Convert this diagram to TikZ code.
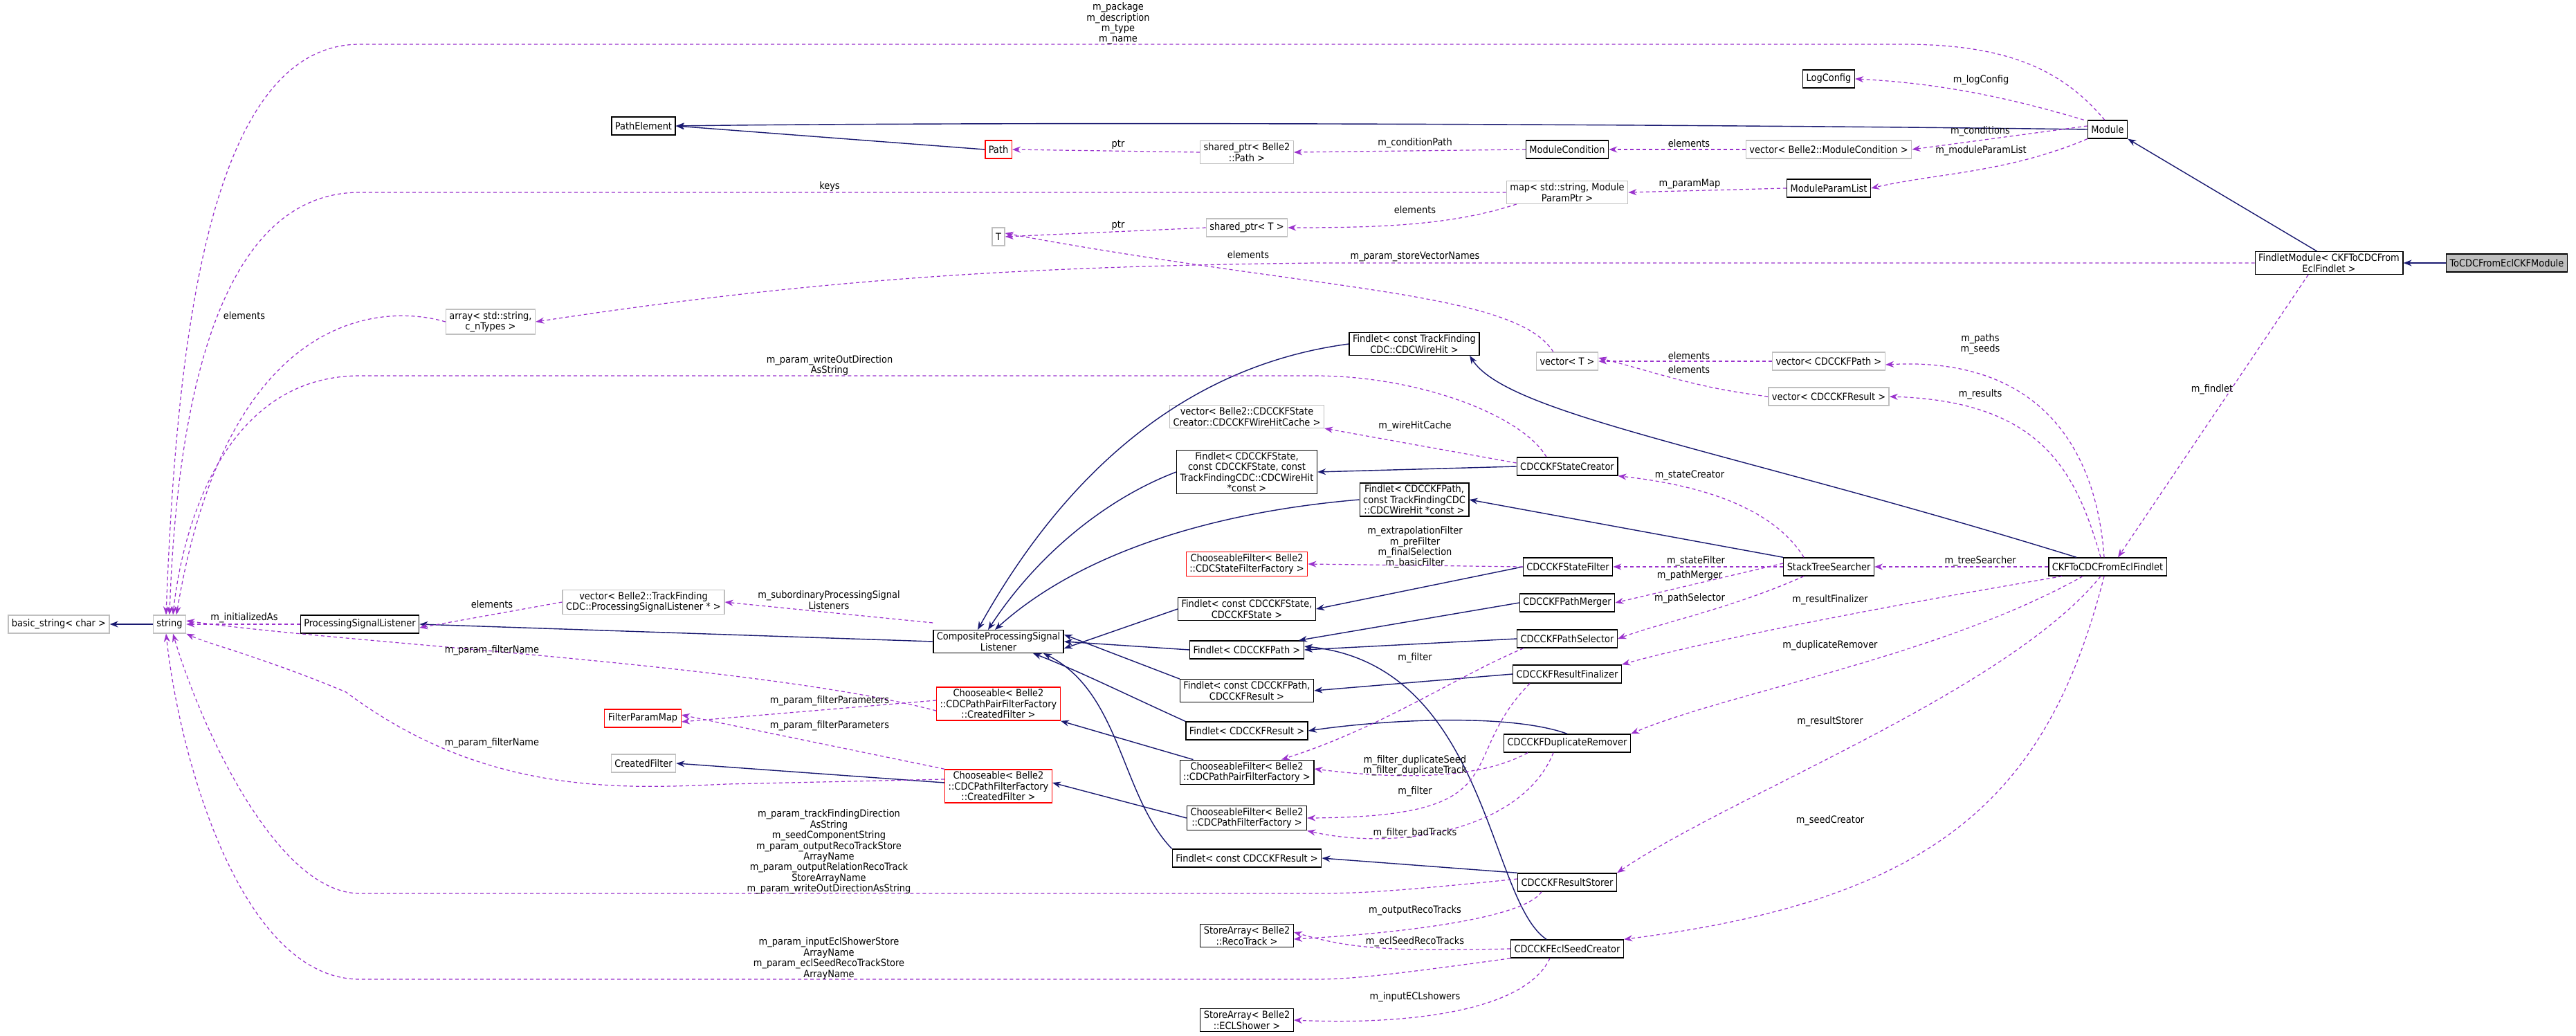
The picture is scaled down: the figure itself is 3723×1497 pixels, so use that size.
\documentclass[tikz,border=0pt]{standalone}
\usepackage{fontspec}
\setmainfont{DejaVu Sans Condensed}
\usetikzlibrary{arrows.meta}
\definecolor{use}{HTML}{9A32CD}
\definecolor{inh}{HTML}{191970}
\definecolor{gb}{HTML}{BFBFBF}
\tikzset{
 bx/.style={draw=black,line width=0.4pt,fill=white,font=\fontsize{4.1}{4.4}\selectfont,align=center,inner xsep=0.05cm,inner ysep=0.03cm,minimum height=0.26cm},
 gbx/.style={bx,draw=gb},
 rbx/.style={bx,draw=red},
 lbl/.style={font=\fontsize{4.1}{4.4}\selectfont,align=center,inner sep=0pt},
 u/.style={draw=use,dashed,dash pattern=on 0.05cm off 0.04cm,line width=0.35pt,-{Stealth[length=0.12cm,width=0.09cm]}},
 ih/.style={draw=inh,line width=0.4pt,-{Stealth[length=0.12cm,width=0.09cm]}},
}
\begin{document}
\begin{tikzpicture}[x=0.01cm,y=-0.01cm]
\useasboundingbox (0,0) rectangle (3723,1497);
% nodes
\node[bx,fill=gb] (top) at (3623,380) {ToCDCFromEclCKFModule};
\node[bx] (fm) at (3366,380) {FindletModule< CKFToCDCFrom\\EclFindlet >};
\node[bx] (mod) at (3046,187) {Module};
\node[bx] (log) at (2643,114) {LogConfig};
\node[gbx] (vmc) at (2643,216) {vector< Belle2::ModuleCondition >};
\node[bx] (mpl) at (2643,272) {ModuleParamList};
\node[bx] (mc) at (2265,216) {ModuleCondition};
\node[gbx] (map) at (2265,278) {map< std::string, Module\\ParamPtr >};
\node[gbx] (spp) at (1802,220) {shared\_ptr< Belle2\\::Path >};
\node[gbx] (spt) at (1802,329) {shared\_ptr< T >};
\node[rbx] (path) at (1443,216) {Path};
\node[gbx] (T) at (1443,342) {T};
\node[bx] (pe) at (930,182) {PathElement};
\node[gbx] (arr) at (709,465) {array< std::string,\\c\_nTypes >};
\node[gbx] (vt) at (2265,522) {vector< T >};
\node[gbx] (vp) at (2643,522) {vector< CDCCKFPath >};
\node[gbx] (vr) at (2643,573) {vector< CDCCKFResult >};
\node[bx] (fwh) at (2044,497) {Findlet< const TrackFinding\\CDC::CDCWireHit >};
\node[gbx] (vwc) at (1802,602) {vector< Belle2::CDCCKFState\\Creator::CDCCKFWireHitCache >};
\node[bx] (fst) at (1802,682) {Findlet< CDCCKFState,\\const CDCCKFState, const\\TrackFindingCDC::CDCWireHit\\*const >};
\node[bx] (scr) at (2265,674) {CDCCKFStateCreator};
\node[bx] (fpw) at (2044,722) {Findlet< CDCCKFPath,\\const TrackFindingCDC\\::CDCWireHit *const >};
\node[bx] (ckf) at (3046,819) {CKFToCDCFromEclFindlet};
\node[bx] (sts) at (2643,819) {StackTreeSearcher};
\node[bx] (sf) at (2266,819) {CDCCKFStateFilter};
\node[rbx] (csf) at (1802,815) {ChooseableFilter< Belle2\\::CDCStateFilterFactory >};
\node[bx] (fcs) at (1802,880) {Findlet< const CDCCKFState,\\CDCCKFState >};
\node[bx] (pm) at (2265,871) {CDCCKFPathMerger};
\node[bx] (fp) at (1802,939) {Findlet< CDCCKFPath >};
\node[bx] (ps) at (2265,923) {CDCCKFPathSelector};
\node[bx] (rf) at (2265,974) {CDCCKFResultFinalizer};
\node[bx] (fpr) at (1802,998) {Findlet< const CDCCKFPath,\\CDCCKFResult >};
\node[bx] (cps) at (1443,927) {CompositeProcessingSignal\\Listener};
\node[rbx] (chpp) at (1443,1017) {Chooseable< Belle2\\::CDCPathPairFilterFactory\\::CreatedFilter >};
\node[bx] (fr) at (1802,1056) {Findlet< CDCCKFResult >};
\node[bx] (dr) at (2265,1074) {CDCCKFDuplicateRemover};
\node[bx] (cfpp) at (1802,1116) {ChooseableFilter< Belle2\\::CDCPathPairFilterFactory >};
\node[rbx] (chp) at (1443,1136) {Chooseable< Belle2\\::CDCPathFilterFactory\\::CreatedFilter >};
\node[bx] (cfp) at (1802,1182) {ChooseableFilter< Belle2\\::CDCPathFilterFactory >};
\node[bx] (fcr) at (1802,1240) {Findlet< const CDCCKFResult >};
\node[bx] (rs) at (2265,1275) {CDCCKFResultStorer};
\node[bx] (sart) at (1802,1352) {StoreArray< Belle2\\::RecoTrack >};
\node[bx] (esc) at (2265,1371) {CDCCKFEclSeedCreator};
\node[bx] (saes) at (1802,1474) {StoreArray< Belle2\\::ECLShower >};
\node[gbx] (str) at (245,902) {string};
\node[gbx] (bs) at (85,902) {basic\_string< char >};
\node[bx] (psl) at (520,902) {ProcessingSignalListener};
\node[gbx] (vpsl) at (930,870) {vector< Belle2::TrackFinding\\CDC::ProcessingSignalListener * >};
\node[rbx] (fpm) at (929,1038) {FilterParamMap};
\node[gbx] (cf) at (930,1103) {CreatedFilter};
% inheritance
\draw[ih] (top) -- (fm);
\draw[ih] (fm.north west) ++(90,0) -- (mod.south east);
\draw[ih] (mod.west) .. controls (2500,180) and (1500,175) .. (pe.east);
\draw[ih] (path.west) -- (pe.east);
\draw[ih] (str) -- (bs);
\draw[ih] (cps.west) -- (psl.east);
\draw[ih] (fwh.west) .. controls (1700,530) and (1530,700) .. ([xshift=-0.3cm]cps.north);
\draw[ih] (fst.west) .. controls (1600,720) and (1500,800) .. ([xshift=-0.15cm]cps.north);
\draw[ih] (fpw.west) .. controls (1750,740) and (1560,800) .. ([xshift=-0.05cm]cps.north);
\draw[ih] (fcs.west) -- ([yshift=-0.1cm]cps.east);
\draw[ih] (fp.west) -- (cps.east);
\draw[ih] (fpr.north west) -- ([yshift=0.1cm]cps.east);
\draw[ih] (fr.north west) .. controls (1620,1000) and (1560,970) .. ([xshift=0.5cm]cps.south);
\draw[ih] (fcr.north west) .. controls (1620,1150) and (1620,1000) .. ([xshift=0.65cm]cps.south);
\draw[ih] (scr.west) -- (fst.east);
\draw[ih] (sts.north west) -- (fpw.east);
\draw[ih] (sf.west) -- (fcs.east);
\draw[ih] (pm.west) -- ([xshift=0.75cm]fp.north);
\draw[ih] (ps.west) -- (fp.east);
\draw[ih] (esc.north) ++(-0.3cm,0) .. controls (2150,1300) and (2150,960) .. ([yshift=0.05cm]fp.east);
\draw[ih] (rf.west) -- (fpr.east);
\draw[ih] (dr.north) .. controls (2180,1030) and (2000,1040) .. (fr.east);
\draw[ih] (rs.north west) -- (fcr.east);
\draw[ih] (ckf.north) ++(-0.45cm,0) .. controls (2500,650) and (2180,600) .. ([xshift=0.8cm]fwh.south);
\draw[ih] (cfpp.north west) ++(0.2cm,0) -- (chpp.south east);
\draw[ih] (cfp.west) -- ([yshift=0.05cm]chp.east);
\draw[ih] ([yshift=0.05cm]chp.west) -- (cf.east);
% usage
\draw[u] (mod.north west) ++(0.25cm,0) .. controls (2980,100) and (2900,64) .. (2750,64) -- (520,64) .. controls (300,64) and (255,500) .. ([xshift=-0.05cm]str.north);
\node[lbl] (l1) at (1616,34) {m\_package\\m\_description\\m\_type\\m\_name};
\draw[u] (mod.north west) ++(-0.05cm,0) .. controls (2900,140) and (2800,120) .. (log.east);
\node[lbl] (l2) at (2863,116) {m\_logConfig};
\draw[u] (mod.west) ++(0,0.05cm) -- (vmc.east);
\node[lbl] (l3) at (2862,190) {m\_conditions};
\draw[u] (mod.south west) .. controls (2900,250) and (2800,250) .. (mpl.east);
\node[lbl] (l4) at (2863,218) {m\_moduleParamList};
\draw[u] (vmc.west) -- (mc.east);
\node[lbl] (l5) at (2441,207) {elements};
\draw[u] (mc.west) -- (spp.east);
\node[lbl] (l6) at (2045,207) {m\_conditionPath};
\draw[u] (spp.west) -- (path.east);
\node[lbl] (l7) at (1616,209) {ptr};
\draw[u] (mpl.west) -- (map.east);
\node[lbl] (l8) at (2442,266) {m\_paramMap};
\draw[u] (map.west) -- (520,278) .. controls (310,278) and (255,600) .. (str.north);
\node[lbl] (l9) at (1199,270) {keys};
\draw[u] (map.south west) ++(0.15cm,0) .. controls (2100,325) and (2000,329) .. (spt.east);
\node[lbl] (l10) at (2045,303) {elements};
\draw[u] (spt.west) -- (T.east);
\node[lbl] (l11) at (1616,326) {ptr};
\draw[u] (vt.north west) ++(0.25cm,0) .. controls (2190,420) and (1900,420) .. ([yshift=0.05cm]T.east);
\node[lbl] (l12) at (1804,368) {elements};
\draw[u] (fm.west) -- (1900,380) .. controls (1500,385) and (1200,400) .. (arr.east);
\node[lbl] (l13) at (2045,371) {m\_param\_storeVectorNames};
\draw[u] (arr.west) .. controls (560,440) and (330,440) .. ([xshift=0.1cm]str.north);
\node[lbl] (l14) at (353,456) {elements};
\draw[u] (vp.west) -- (vt.east);
\node[lbl] (l15) at (2441,514) {elements};
\draw[u] (vr.west) .. controls (2450,560) and (2400,540) .. ([yshift=0.05cm]vt.east);
\node[lbl] (l16) at (2441,534) {elements};
\draw[u] (ckf.north) ++(-0.05cm,0) .. controls (3030,650) and (2950,515) .. ([yshift=-0.05cm]vp.east);
\node[lbl] (l17) at (2862,497) {m\_paths\\m\_seeds};
\draw[u] (ckf.north) ++(-0.1cm,0) .. controls (3000,680) and (2950,580) .. (vr.east);
\node[lbl] (l18) at (2862,570) {m\_results};
\draw[u] (fm.south) ++(-0.3cm,0) -- ([xshift=0.15cm]ckf.north);
\node[lbl] (l19) at (3197,563) {m\_findlet};
\draw[u] (scr.north) ++(-0.3cm,0) .. controls (2200,600) and (2050,543) .. (1900,543) -- (520,543) .. controls (330,543) and (265,750) .. ([xshift=0.05cm]str.north);
\node[lbl] (l20) at (1199,528) {m\_param\_writeOutDirection\\AsString};
\draw[u] (scr.west) ++(0,0.05cm) -- (vwc.south east);
\node[lbl] (l21) at (2045,616) {m\_wireHitCache};
\draw[u] (sts.north west) ++(0.3cm,0) .. controls (2560,730) and (2450,700) .. (scr.south east);
\node[lbl] (l22) at (2442,687) {m\_stateCreator};
\draw[u] (sts.west) -- (sf.east);
\node[lbl] (l23) at (2451,811) {m\_stateFilter};
\draw[u] (sts.west) ++(0,0.05cm) -- (pm.east);
\node[lbl] (l24) at (2442,832) {m\_pathMerger};
\draw[u] (sts.south west) ++(0.3cm,0) .. controls (2500,880) and (2400,900) .. (ps.east);
\node[lbl] (l25) at (2442,865) {m\_pathSelector};
\draw[u] (ckf.west) -- (sts.east);
\node[lbl] (l26) at (2862,811) {m\_treeSearcher};
\draw[u] (ckf.south west) ++(0.2cm,0) .. controls (2700,880) and (2450,930) .. (rf.north east);
\node[lbl] (l27) at (2645,867) {m\_resultFinalizer};
\draw[u] (ckf.south west) ++(0.5cm,0) .. controls (2800,950) and (2500,1000) .. (dr.north east);
\node[lbl] (l28) at (2645,933) {m\_duplicateRemover};
\draw[u] (ckf.south) ++(-0.1cm,0) .. controls (2900,1000) and (2500,1150) .. (rs.north east);
\node[lbl] (l29) at (2645,1043) {m\_resultStorer};
\draw[u] (ckf.south) ++(-0.05cm,0) .. controls (2960,1150) and (2800,1300) .. (esc.north east);
\node[lbl] (l30) at (2645,1186) {m\_seedCreator};
\draw[u] (sf.west) -- (csf.east);
\node[lbl] (l31) at (2045,791) {m\_extrapolationFilter\\m\_preFilter\\m\_finalSelection\\m\_basicFilter};
\draw[u] (ps.south west) ++(0.1cm,0) .. controls (2100,980) and (2000,1050) .. ([xshift=0.5cm]cfpp.north);
\node[lbl] (l32) at (2045,951) {m\_filter};
\draw[u] (dr.south west) ++(0.35cm,0) .. controls (2150,1120) and (2050,1130) .. ([yshift=0.05cm]cfpp.east);
\node[lbl] (l33) at (2045,1106) {m\_filter\_duplicateSeed\\m\_filter\_duplicateTrack};
\draw[u] (rf.south west) ++(0.25cm,0) .. controls (2100,1100) and (2200,1180) .. (cfp.east);
\node[lbl] (l34) at (2045,1144) {m\_filter};
\draw[u] (dr.south) ++(-0.2cm,0) .. controls (2200,1200) and (2020,1230) .. (cfp.south east);
\node[lbl] (l35) at (2045,1204) {m\_filter\_badTracks};
\draw[u] (psl.west) -- (str.east);
\node[lbl] (l36) at (353,893) {m\_initializedAs};
\draw[u] (vpsl.west) -- ([yshift=-0.05cm]psl.east);
\node[lbl] (l37) at (711,873) {elements};
\draw[u] (cps.north west) ++(0,0.1cm) -- (vpsl.east);
\node[lbl] (l38) at (1198,867) {m\_subordinaryProcessingSignal\\Listeners};
\draw[u] (chpp.west) ++(0,-0.1cm) .. controls (1100,960) and (500,930) .. ([yshift=0.05cm]str.east);
\node[lbl] (l39) at (711,940) {m\_param\_filterName};
\draw[u] (chpp.west) ++(0,0.05cm) -- ([yshift=-0.05cm]fpm.east);
\node[lbl] (l40) at (1199,1013) {m\_param\_filterParameters};
\draw[u] (chp.north west) -- ([yshift=0.05cm]fpm.east);
\node[lbl] (l41) at (1199,1049) {m\_param\_filterParameters};
\draw[u] (chp.west) ++(0,0.1cm) -- (1050,1133) .. controls (900,1140) and (700,1150) .. (500,1000) .. controls (380,950) and (300,930) .. (str.south east);
\node[lbl] (l42) at (711,1074) {m\_param\_filterName};
\draw[u] (rs.west) ++(0,0.05cm) .. controls (2000,1290) and (1950,1291) .. (1900,1291) -- (520,1291) .. controls (400,1291) and (290,1050) .. ([xshift=0.05cm]str.south);
\node[lbl] (l43) at (1198,1231) {m\_param\_trackFindingDirection\\AsString\\m\_seedComponentString\\m\_param\_outputRecoTrackStore\\ArrayName\\m\_param\_outputRelationRecoTrack\\StoreArrayName\\m\_param\_writeOutDirectionAsString};
\draw[u] (esc.south west) .. controls (2000,1410) and (1950,1415) .. (1900,1415) -- (520,1415) .. controls (350,1415) and (260,1100) .. ([xshift=-0.05cm]str.south);
\node[lbl] (l44) at (1198,1385) {m\_param\_inputEclShowerStore\\ArrayName\\m\_param\_eclSeedRecoTrackStore\\ArrayName};
\draw[u] (rs.south west) ++(0.35cm,0) .. controls (2200,1330) and (2000,1350) .. ([yshift=-0.05cm]sart.east);
\node[lbl] (l45) at (2045,1316) {m\_outputRecoTracks};
\draw[u] (esc.west) .. controls (2000,1375) and (1950,1370) .. ([yshift=0.05cm]sart.east);
\node[lbl] (l46) at (2045,1361) {m\_eclSeedRecoTracks};
\draw[u] (esc.south) ++(-0.25cm,0) .. controls (2200,1470) and (2000,1480) .. (saes.east);
\node[lbl] (l47) at (2045,1441) {m\_inputECLshowers};
\end{tikzpicture}
\end{document}
